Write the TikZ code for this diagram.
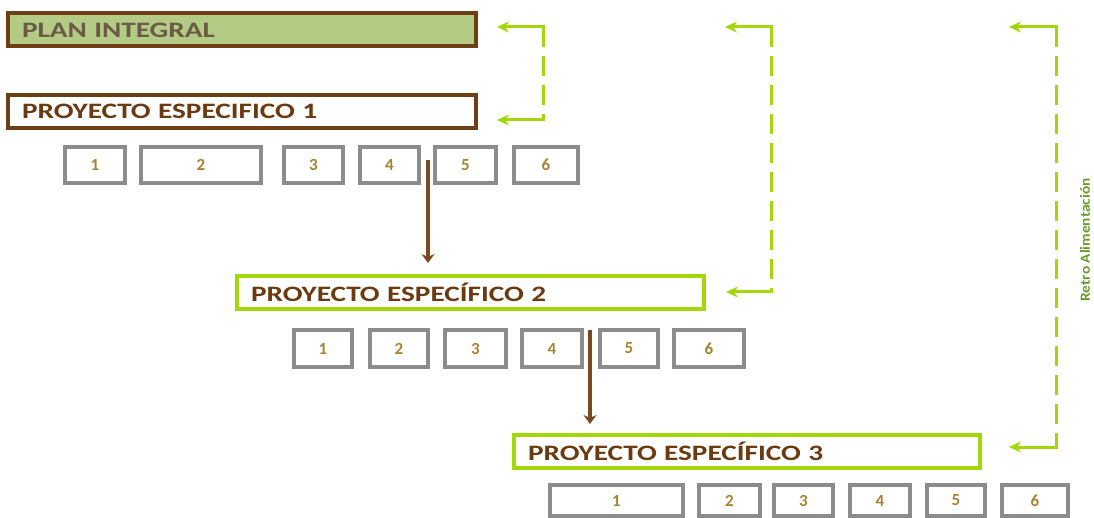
\documentclass[tikz,border=0pt]{standalone}
\usepackage{fontspec}
\setmainfont{Carlito}
\newfontfamily\widefont[FakeStretch=1.33]{Carlito}
\newfontfamily\sidefont[FakeStretch=1.1]{Carlito}
\usetikzlibrary{arrows.meta}

\definecolor{planfill}{HTML}{B3CB85}
\definecolor{brownline}{HTML}{6E3F14}
\definecolor{browntext}{HTML}{6B3A10}
\definecolor{plantext}{HTML}{6B5B45}
\definecolor{fbgreen}{HTML}{A2D80A}
\definecolor{boxgray}{HTML}{8C8C8C}
\definecolor{digit}{HTML}{A88432}
\definecolor{flowbrown}{HTML}{7A4A1E}
\definecolor{retrogreen}{HTML}{6A9A2A}

\tikzset{
  titlebox/.style={line width=4pt, minimum height=33pt, inner xsep=14pt,
    inner ysep=0pt, align=left, text=browntext,
    font=\widefont\bfseries\fontsize{22}{22}\selectfont},
  numbox/.style={draw=boxgray, line width=4pt, fill=white, inner sep=0pt,
    text=digit, font=\bfseries\fontsize{17}{17}\selectfont},
  fbdash/.style={draw=fbgreen, line width=3pt, dash pattern=on 20pt off 9pt},
  fbarrow/.style={draw=fbgreen, line width=3pt,
    -{Stealth[length=12pt,width=11pt]}},
  flow/.style={draw=flowbrown, line width=4pt,
    -{Stealth[length=9pt,width=13pt]}}
}

\begin{document}
\begin{tikzpicture}[x=1pt,y=-1pt]
\useasboundingbox (0,0) rectangle (1094,518);

% --- plan and specific projects
\node[titlebox, draw=brownline, fill=planfill, text=plantext,
      minimum width=468pt, text width=440pt] (plan) at (242,30) {PLAN INTEGRAL};
\node[titlebox, draw=brownline, fill=white,
      minimum width=468pt, text width=440pt] (p1) at (242,111.5) {PROYECTO ESPECIFICO 1};
\node[titlebox, draw=fbgreen, fill=white,
      minimum width=467pt, text width=439pt] (p2) at (470.5,292.5) {PROYECTO ESPECÍFICO 2};
\node[titlebox, draw=fbgreen, fill=white,
      minimum width=466pt, text width=438pt] (p3) at (747,451) {PROYECTO ESPECÍFICO 3};

% --- stages of project 1
\foreach \n/\cx/\w in {1/95/60, 2/201/120, 3/313.5/59, 4/389.5/59, 5/465.5/61, 6/546/64}
  \node[numbox, minimum width=\w pt, minimum height=36pt] (a\n) at (\cx,165) {\n};

% --- stages of project 2
\foreach \n/\cx/\w in {1/323/58, 2/399/58, 3/475.5/61, 4/552/60, 5/629/58, 6/709/70}
  \node[numbox, minimum width=\w pt, minimum height=37pt] (b\n) at (\cx,348.5) {\n};

% --- stages of project 3
\foreach \n/\cx/\w in {1/616.5/133, 2/729.5/61, 3/803.5/59, 4/880/60, 5/956/58, 6/1035/66}
  \node[numbox, minimum width=\w pt, minimum height=31pt] (c\n) at (\cx,500.5) {\n};

% --- flow from one project to the next
\coordinate (s1) at (428,160);
\coordinate (t1) at (428,263);
\coordinate (s2) at (590,330);
\coordinate (t2) at (590,424);
\draw[flow] (s1) -- (t1);
\draw[flow] (s2) -- (t2);

% --- feedback loops
\coordinate (k1t) at (543,27);   \coordinate (k1b) at (543,120);
\coordinate (e1t) at (497,27);   \coordinate (e1b) at (497,120);
\coordinate (k2t) at (771,27);   \coordinate (k2b) at (771,292);
\coordinate (e2t) at (725,27);   \coordinate (e2b) at (726,292);
\coordinate (k3t) at (1056,27);  \coordinate (k3b) at (1056,447);
\coordinate (e3t) at (1009,27);  \coordinate (e3b) at (1009,447);

\foreach \i in {1,2,3}{
  \draw[fbdash] (k\i t) -- (k\i b);
  \draw[fbarrow] ([xshift=1.5pt]k\i t) -- (e\i t);
  \draw[fbarrow] ([xshift=1.5pt]k\i b) -- (e\i b);
}

% --- side label
\node[rotate=90, text=retrogreen, inner sep=0pt,
      font=\sidefont\bfseries\fontsize{14}{14}\selectfont] (retro) at (1085,240) {Retro Alimentación};
\end{tikzpicture}
\end{document}
